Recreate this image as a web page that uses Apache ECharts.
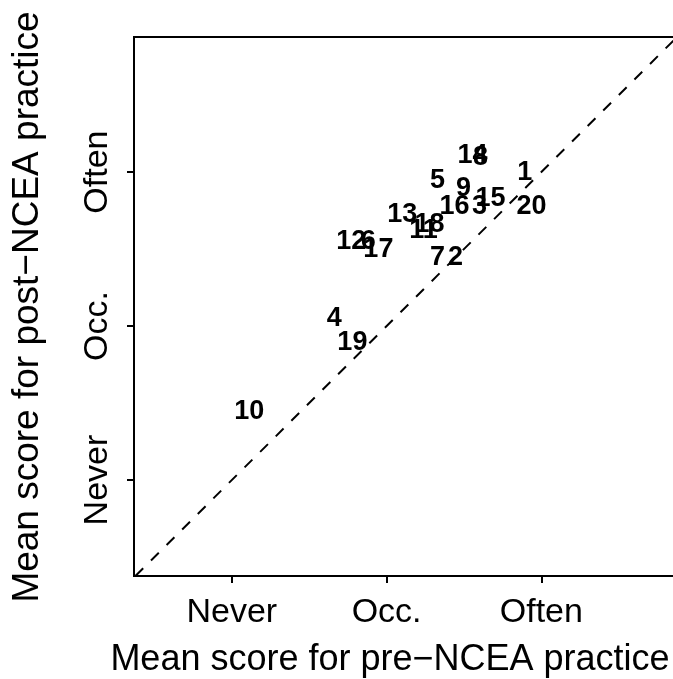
<!DOCTYPE html>
<html>
<head>
<meta charset="utf-8">
<script src="https://cdn.jsdelivr.net/npm/echarts@6/dist/echarts.min.js"></script>
<style>
html,body{margin:0;padding:0;background:#fff;}
#chart{width:673px;height:679px;}
</style>
</head>
<body>
<div id="chart"></div>
<script>
// ---- data ----
const pointLabels = ['1','2','3','4','5','6','7','8','9','10','11','12','13','14','15','16','17','18','19','20'];
const preScores  = [2.892,2.445,2.601,1.662,2.329,1.882,2.329,2.607,2.497,1.112,2.238,1.772,2.102,2.555,2.672,2.439,1.947,2.277,1.779,2.937];
const postScores = [3.000,2.442,2.779,2.052,2.942,2.552,2.442,3.097,2.896,1.442,2.623,2.552,2.721,3.104,2.831,2.779,2.500,2.662,1.890,2.779];
const tickValues = [1, 2, 3];
const tickNames  = ['Never', 'Occ.', 'Often'];
const xTitle = 'Mean score for pre\u2212NCEA practice';
const yTitle = 'Mean score for post\u2212NCEA practice';

// axis ranges
const xMin = 0.368, xMax = 3.870;
const yMin = 0.377, yMax = 3.877;

const FONT = '"Liberation Sans", Arial, Helvetica, sans-serif';
const chart = echarts.init(document.getElementById('chart'), null, {renderer: 'canvas'});

const pts = preScores.map((x, i) => [x, postScores[i], i]);
const lo = Math.max(xMin, yMin), hi = Math.min(xMax, yMax);

const tickFmt = v => {
  const i = tickValues.indexOf(Math.round(v));
  return i >= 0 ? tickNames[i] : '';
};

chart.setOption({
  animation: false,
  backgroundColor: '#fff',
  grid: {left: 134, top: 37, width: 542, height: 539, show: true, outerBoundsMode: 'none', containLabel: false,
         borderColor: '#000', borderWidth: 2, backgroundColor: 'transparent'},
  xAxis: {
    type: 'value', min: xMin, max: xMax,
    splitLine: {show: false},
    axisLine: {show: true, onZero: false, lineStyle: {color: '#000', width: 2}},
    axisTick: {show: true, length: 7, inside: false, customValues: tickValues, lineStyle: {color: '#000', width: 2}},
    axisLabel: {show: true, customValues: tickValues, formatter: tickFmt, margin: 20,
                color: '#000', fontSize: 34, fontFamily: FONT}
  },
  yAxis: {
    type: 'value', min: yMin, max: yMax,
    splitLine: {show: false},
    axisLine: {show: true, onZero: false, lineStyle: {color: '#000', width: 2}},
    axisTick: {show: true, length: 7, inside: false, customValues: tickValues, lineStyle: {color: '#000', width: 2}},
    axisLabel: {show: true, customValues: tickValues, formatter: tickFmt, rotate: 90, margin: 19,
                color: '#000', fontSize: 34, fontFamily: FONT}
  },
  graphic: [
    {type: 'text', x: 390, y: 660, style: {text: xTitle, font: '36px ' + FONT, fill: '#000', textAlign: 'center', textVerticalAlign: 'middle'}},
    {type: 'text', x: 28, y: 307, rotation: Math.PI / 2, style: {text: yTitle, font: '37px ' + FONT, fill: '#000', textAlign: 'center', textVerticalAlign: 'middle'}}
  ],
  series: [
    {
      type: 'line', data: [[lo, lo], [hi, hi]], symbol: 'none', silent: true,
      lineStyle: {color: '#000', width: 2, type: [11, 11]}, z: 1
    },
    {
      type: 'custom', data: pts, silent: true, z: 3,
      renderItem: (params, api) => {
        const c = api.coord([api.value(0), api.value(1)]);
        return {
          type: 'text', x: c[0], y: c[1],
          style: {text: pointLabels[api.value(2)], font: 'bold 27px ' + FONT, fill: '#000',
                  textAlign: 'center', textVerticalAlign: 'middle'}
        };
      }
    }
  ]
});
</script>
</body>
</html>
